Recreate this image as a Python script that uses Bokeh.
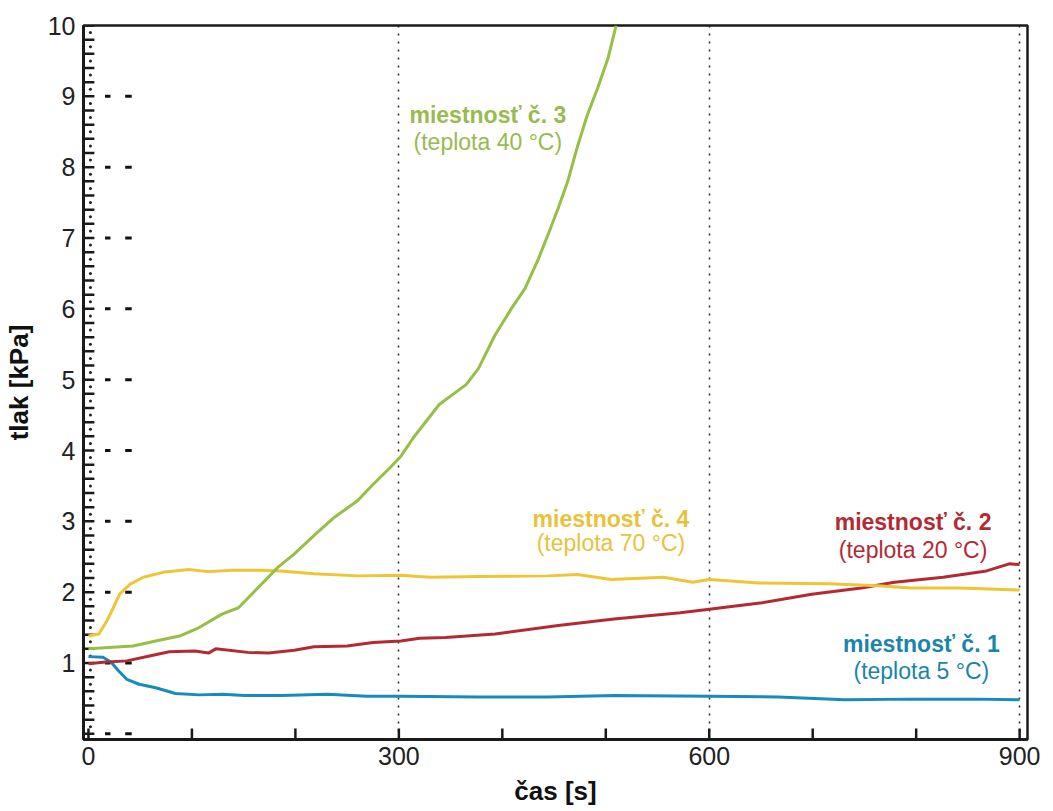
import numpy as np
from bokeh.plotting import figure
from bokeh.models import Range1d, FixedTicker
from bokeh.core.properties import value
from bokeh.embed import file_html
from bokeh.resources import INLINE

# ---- data ----
# room 1 (5 °C) - blue
t1 = [0, 14, 22, 29, 37, 49, 65, 84, 107, 129, 151, 186, 231, 269, 302, 377, 444, 508,
      600, 667, 731, 795, 858, 900]
p1 = [1.09, 1.08, 1.01, 0.89, 0.77, 0.70, 0.65, 0.57, 0.55, 0.56, 0.54, 0.54, 0.56, 0.53,
      0.53, 0.52, 0.52, 0.54, 0.53, 0.52, 0.48, 0.49, 0.49, 0.48]
# room 2 (20 °C) - red
t2 = [0, 14, 37, 59, 78, 103, 116, 123, 154, 174, 199, 218, 250, 275, 302, 320, 345, 393,
      454, 508, 572, 600, 651, 699, 747, 779, 826, 868, 890, 900]
p2 = [0.99, 1.01, 1.03, 1.10, 1.16, 1.17, 1.14, 1.20, 1.15, 1.14, 1.18, 1.23, 1.24, 1.29,
      1.31, 1.35, 1.36, 1.41, 1.53, 1.62, 1.71, 1.76, 1.85, 1.97, 2.06, 2.14, 2.21, 2.30,
      2.40, 2.39]
# room 3 (40 °C) - green
t3 = [0, 43, 65, 88, 107, 129, 145, 161, 183, 199, 221, 237, 260, 275, 291, 302, 314, 339,
      365, 377, 393, 409, 422, 435, 444, 454, 463, 473, 482, 492, 502, 510]
p3 = [1.20, 1.24, 1.31, 1.38, 1.50, 1.69, 1.78, 2.02, 2.35, 2.54, 2.84, 3.05, 3.29, 3.52,
      3.75, 3.92, 4.18, 4.65, 4.93, 5.16, 5.63, 6.01, 6.29, 6.71, 7.04, 7.42, 7.79, 8.31,
      8.73, 9.11, 9.53, 10.0]
# room 4 (70 °C) - yellow
t4 = [0, 10, 18, 24, 30, 40, 53, 72, 97, 116, 139, 167, 186, 218, 260, 302, 330, 380, 444,
      473, 505, 556, 584, 600, 648, 715, 763, 795, 842, 900]
p4 = [1.38, 1.41, 1.60, 1.78, 1.97, 2.11, 2.21, 2.28, 2.32, 2.29, 2.31, 2.31, 2.30, 2.26,
      2.23, 2.24, 2.21, 2.22, 2.23, 2.25, 2.18, 2.21, 2.14, 2.18, 2.13, 2.12, 2.09, 2.06,
      2.06, 2.03]

label_names = ["miestnosť č. 1", "miestnosť č. 2", "miestnosť č. 3", "miestnosť č. 4"]
label_temps = ["(teplota 5 °C)", "(teplota 20 °C)", "(teplota 40 °C)", "(teplota 70 °C)"]
label_x = [805, 797, 386, 505]
label_y_name = [1.27, 2.99, 8.73, 3.04]
label_y_temp = [0.89, 2.60, 8.35, 2.70]

x_major = [0, 300, 600, 900]
x_minor = [0, 100, 200, 300, 400, 500, 600, 700, 800, 900]
y_major = [1, 2, 3, 4, 5, 6, 7, 8, 9, 10]

line_colors = ["#178CBB", "#B32A33", "#97BE45", "#EEC535"]
text_colors = ["#1A85A9", "#B22A33", "#99BA4E", "#E8C23C"]

FONT = "Liberation Sans"
X0, X1 = -4.8, 907.6
Y0, Y1 = -0.08, 10.0

p = figure(width=1043, height=808, output_backend="svg", toolbar_location=None,
           x_range=Range1d(X0, X1), y_range=Range1d(Y0, Y1),
           min_border_left=72, min_border_right=16, min_border_top=25, min_border_bottom=69,
           background_fill_color="white", border_fill_color="white")

p.outline_line_color = "#1a1a1a"
p.outline_line_width = 2.5

# grids: dotted verticals at 300/600/900
p.xgrid.ticker = FixedTicker(ticks=[300, 600, 900])
p.xgrid.grid_line_color = "#222222"
p.xgrid.grid_line_dash = "2 6"
p.xgrid.grid_line_width = 1.5
p.ygrid.grid_line_color = None

# x axis
xa = p.xaxis[0]
xa.ticker = FixedTicker(ticks=x_major)
xa.axis_label = "čas [s]"
xa.axis_line_width = 3
xa.axis_line_color = "#1a1a1a"
xa.major_tick_in = 0
xa.major_tick_out = 0
xa.minor_tick_in = 0
xa.minor_tick_out = 0
xa.major_label_text_font = FONT
xa.major_label_text_font_size = "25px"
xa.major_label_text_color = "#222222"
xa.major_label_standoff = 7
xa.axis_label_text_font = FONT
xa.axis_label_text_font_style = "bold"
xa.axis_label_text_font_size = "26px"
xa.axis_label_text_color = "#111111"
xa.axis_label_standoff = 8

# y axis
ya = p.yaxis[0]
ya.ticker = FixedTicker(ticks=y_major)
ya.axis_label = "tlak [kPa]"
ya.axis_line_width = 3
ya.axis_line_color = "#1a1a1a"
ya.major_tick_in = 0
ya.major_tick_out = 0
ya.minor_tick_in = 0
ya.minor_tick_out = 0
ya.major_label_text_font = FONT
ya.major_label_text_font_size = "25px"
ya.major_label_text_color = "#222222"
ya.major_label_standoff = 8
ya.axis_label_text_font = FONT
ya.axis_label_text_font_style = "bold"
ya.axis_label_text_font_size = "26px"
ya.axis_label_text_color = "#111111"
ya.axis_label_standoff = 11

# inward ticks drawn as glyphs (11 px long)
xs_per_px = (X1 - X0) / 955.0
ys_per_px = (Y1 - Y0) / 714.0
p.segment(x0=x_minor, x1=x_minor, y0=[Y0] * len(x_minor),
          y1=[Y0 + 11 * ys_per_px] * len(x_minor), line_color="#1a1a1a", line_width=2.5)
y_ticks = [round(0.2 * k, 1) for k in range(51)]
p.segment(x0=[X0] * len(y_ticks), x1=[X0 + 11 * xs_per_px] * len(y_ticks),
          y0=y_ticks, y1=y_ticks, line_color="#1a1a1a", line_width=2.5)

# decorative short dashes at each integer and dots between y ticks
ints = list(range(0, 10))
p.segment(x0=[16] * len(ints), x1=[21.3] * len(ints), y0=ints, y1=ints,
          line_color="#111111", line_width=3)
p.segment(x0=[35.5] * len(ints), x1=[41.8] * len(ints), y0=ints, y1=ints,
          line_color="#111111", line_width=3)
dots_y = [round(0.1 + 0.2 * k, 1) for k in range(50)]
p.scatter(x=[X0 + 7 * xs_per_px] * len(dots_y), y=dots_y, marker="circle", size=3,
          fill_color="#222222", line_color=None)

# curves
p.line(t1, p1, line_color=line_colors[0], line_width=3)
p.line(t2, p2, line_color=line_colors[1], line_width=3)
p.line(t4, p4, line_color=line_colors[3], line_width=3)
p.line(t3, p3, line_color=line_colors[2], line_width=3)

# labels
p.text(x=label_x, y=label_y_name, text=label_names, text_color=text_colors,
       text_font=value(FONT), text_font_style="bold", text_font_size="23px",
       text_align="center", text_baseline="middle")
p.text(x=label_x, y=label_y_temp, text=label_temps, text_color=text_colors,
       text_font=value(FONT), text_font_size="23px",
       text_align="center", text_baseline="middle")

open("out.html", "w").write(file_html(p, INLINE))
